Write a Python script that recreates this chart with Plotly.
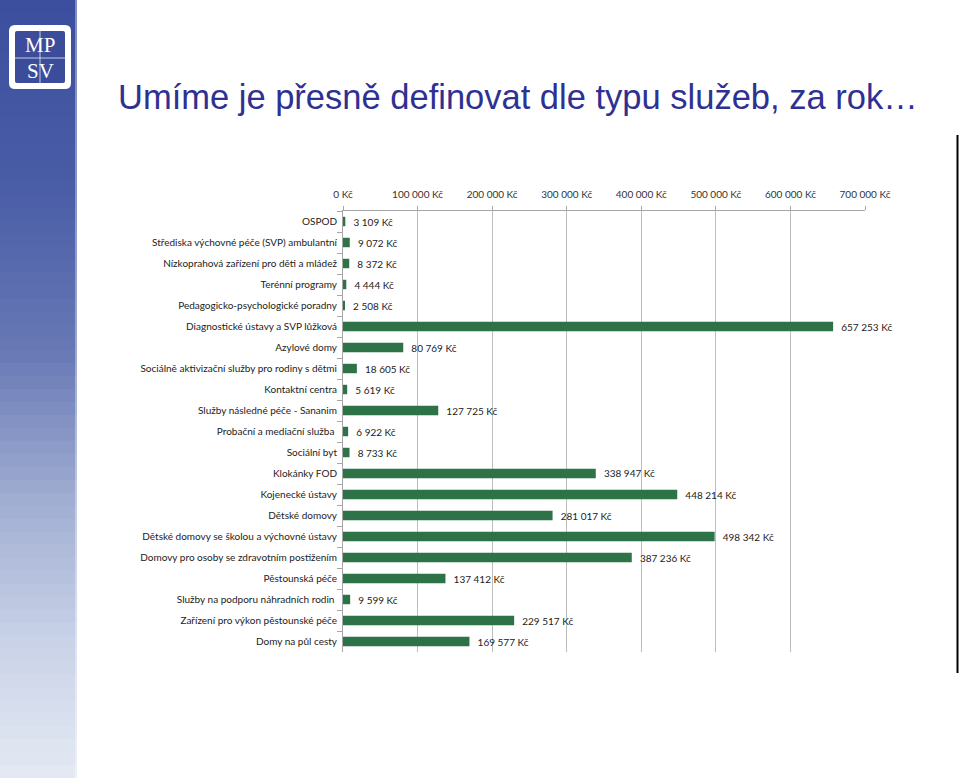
import plotly.graph_objects as go

categories = [
    "OSPOD",
    "Střediska výchovné péče (SVP) ambulantní",
    "Nízkoprahová zařízení pro děti a mládež",
    "Terénní programy",
    "Pedagogicko-psychologické poradny",
    "Diagnostické ústavy a SVP lůžková",
    "Azylové domy",
    "Sociálně aktivizační služby pro rodiny s dětmi",
    "Kontaktní centra",
    "Služby následné péče - Sananim",
    "Probační a mediační služba ",
    "Sociální byt",
    "Klokánky FOD",
    "Kojenecké ústavy",
    "Dětské domovy",
    "Dětské domovy se školou a výchovné ústavy",
    "Domovy pro osoby se zdravotním postižením",
    "Pěstounská péče",
    "Služby na podporu náhradních rodin ",
    "Zařízení pro výkon pěstounské péče",
    "Domy na půl cesty",
]
values = [3109, 9072, 8372, 4444, 2508, 657253, 80769, 18605, 5619, 127725,
          6922, 8733, 338947, 448214, 281017, 498342, 387236, 137412, 9599,
          229517, 169577]
x_ticks = [0, 100000, 200000, 300000, 400000, 500000, 600000, 700000]
x_tick_labels = ["0 Kč", "100 000 Kč", "200 000 Kč", "300 000 Kč",
                 "400 000 Kč", "500 000 Kč", "600 000 Kč", "700 000 Kč"]

W, H = 960, 778
ML, MR, MT, MB = 343, 95, 211, 126
PW, PH = W - ML - MR, H - MT - MB


def px(xp):
    return (xp - ML) / PW


def py(yp):
    return (H - MB - yp) / PH


fig = go.Figure()
fig.add_trace(go.Bar(
    x=values, y=categories, orientation="h",
    marker=dict(color="#2e7347", line=dict(width=0)),
    texttemplate="\u00a0\u00a0%{x:,.0f} Kč", textposition="outside",
    textfont=dict(family="Lato", size=10, color="#222222"),
    constraintext="none", cliponaxis=False,
))

shapes = []
stops = [(0, (60, 78, 158)), (180, (72, 92, 166)), (350, (104, 120, 181)),
         (500, (160, 174, 210)), (650, (203, 212, 232)), (778, (228, 233, 243))]


def col_at(yv):
    for (y0, c0), (y1, c1) in zip(stops[:-1], stops[1:]):
        if y0 <= yv <= y1:
            t = (yv - y0) / (y1 - y0)
            return tuple(int(round(a + (b - a) * t)) for a, b in zip(c0, c1))
    return stops[-1][1]


n = 60
for i in range(n):
    y0 = H * i / n
    y1 = H * (i + 1) / n + 2
    c = col_at(H * (i + 0.5) / n)
    shapes.append(dict(type="rect", xref="paper", yref="paper",
                       x0=px(0), x1=px(77), y0=py(y1), y1=py(y0),
                       fillcolor="rgb(%d,%d,%d)" % c,
                       line=dict(width=0), layer="below"))
shapes.append(dict(type="line", xref="paper", yref="paper",
                   x0=px(76), x1=px(76), y0=py(0), y1=py(H),
                   line=dict(color="rgba(255,255,255,0.35)", width=2)))


def rrect(x0, y0, x1, y1, r):
    a, b, c, d = px(x0), px(x1), py(y0), py(y1)
    rx, ry = r / PW, r / PH
    return (f"M {a+rx},{c} L {b-rx},{c} Q {b},{c} {b},{c-ry} L {b},{d+ry} "
            f"Q {b},{d} {b-rx},{d} L {a+rx},{d} Q {a},{d} {a},{d+ry} "
            f"L {a},{c-ry} Q {a},{c} {a+rx},{c} Z")


shapes.append(dict(type="path", xref="paper", yref="paper",
                   path=rrect(9, 25, 71, 89, 6), fillcolor="white",
                   line=dict(width=0)))
shapes.append(dict(type="path", xref="paper", yref="paper",
                   path=rrect(15, 31, 65, 83, 2), fillcolor="#3b4c9b",
                   line=dict(width=0)))
shapes.append(dict(type="line", xref="paper", yref="paper",
                   x0=px(15), x1=px(65), y0=py(58), y1=py(58),
                   line=dict(color="rgba(255,255,255,0.7)", width=1)))
shapes.append(dict(type="line", xref="paper", yref="paper",
                   x0=px(40), x1=px(40), y0=py(31), y1=py(83),
                   line=dict(color="rgba(255,255,255,0.7)", width=1)))

shapes.append(dict(type="line", xref="paper", yref="paper",
                   x0=px(957.5), x1=px(957.5), y0=py(135), y1=py(673),
                   line=dict(color="black", width=2)))

annotations = [
    dict(text="MP", xref="paper", yref="paper", x=px(40), y=py(45),
         xanchor="center", yanchor="middle", showarrow=False,
         font=dict(family="Liberation Serif", size=21, color="white")),
    dict(text="SV", xref="paper", yref="paper", x=px(40), y=py(71),
         xanchor="center", yanchor="middle", showarrow=False,
         font=dict(family="Liberation Serif", size=21, color="white")),
    dict(text="Umíme je přesně definovat dle typu služeb, za rok…",
         xref="paper", yref="paper", x=px(116), y=py(97),
         xanchor="left", yanchor="middle", showarrow=False,
         font=dict(family="Liberation Sans", size=34.5, color="#2e3192")),
]

fig.update_layout(
    width=W, height=H,
    margin=dict(l=ML, r=MR, t=MT, b=MB, pad=0),
    paper_bgcolor="white", plot_bgcolor="white",
    separators=", ",
    showlegend=False,
    bargap=0.55,
    shapes=shapes,
    annotations=annotations,
    xaxis=dict(side="top", range=[0, 700000], tickvals=x_ticks,
               ticktext=x_tick_labels,
               showgrid=True, gridcolor="#bdbdbd", gridwidth=1,
               showline=True, linecolor="#a6a6a6", linewidth=1,
               ticks="outside", ticklen=4, tickcolor="#a6a6a6",
               ticklabelstandoff=4,
               tickfont=dict(family="Lato", size=10, color="#333333"),
               zeroline=False, fixedrange=True),
    yaxis=dict(categoryorder="array", categoryarray=categories,
               autorange="reversed", showline=True, linecolor="#a6a6a6",
               linewidth=1, ticks="outside", ticklen=5, tickcolor="#a6a6a6",
               tickson="boundaries", showgrid=False, ticklabelstandoff=3,
               tickfont=dict(family="Lato", size=10, color="#222222"),
               fixedrange=True),
)

fig.write_html("out.html")
